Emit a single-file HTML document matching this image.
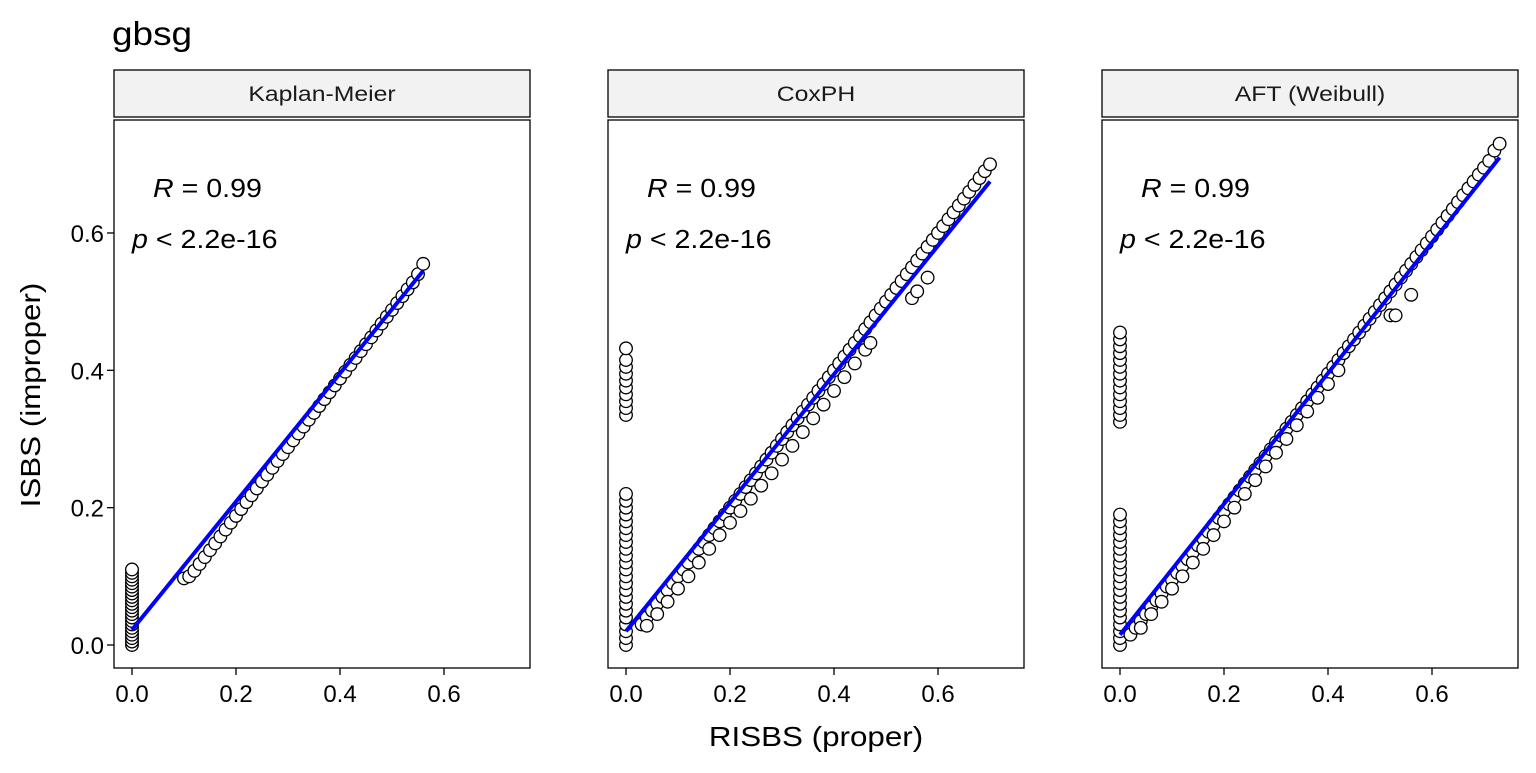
<!DOCTYPE html>
<html><head><meta charset="utf-8"><style>
body{margin:0;background:#fff}
svg text{font-family:"Liberation Sans",Arial,sans-serif}
</style></head><body>
<svg id="c" width="1536" height="768" xmlns="http://www.w3.org/2000/svg">
<text transform="translate(112,45) scale(1.12,1)" font-size="33">gbsg</text>
<text transform="translate(816,746) scale(1.12,1)" font-size="28" text-anchor="middle">RISBS (proper)</text>
<text transform="translate(40,395) rotate(-90) scale(1.12,1)" font-size="28" text-anchor="middle">ISBS (improper)</text>
</svg>
<script>
const panels=["Kaplan-Meier","CoxPH","AFT (Weibull)"];
const xTicks=[0,0.2,0.4,0.6];
const xTickLabels=["0.0","0.2","0.4","0.6"];
const yTicks=[0,0.2,0.4,0.6];
const yTickLabels=["0.0","0.2","0.4","0.6"];
const kmX=[0,0,0,0,0,0,0,0,0,0,0,0,0,0,0,0,0,0,0,0,0,0,0,
0.10,0.11,0.12,0.13,0.14,0.15,0.16,0.17,0.18,0.19,0.20,0.21,0.22,0.23,0.24,0.25,0.26,0.27,0.28,0.29,0.30,0.31,0.32,0.33,0.34,0.35,0.36,0.37,0.38,0.39,0.40,0.41,0.42,0.43,0.44,0.45,0.46,0.47,0.48,0.49,0.50,0.51,0.52,0.53,0.54,0.55,0.56];
const kmY=[0,0.005,0.01,0.015,0.02,0.025,0.03,0.035,0.04,0.045,0.05,0.055,0.06,0.065,0.07,0.075,0.08,0.085,0.09,0.095,0.10,0.105,0.11,
0.097,0.10,0.108,0.118,0.128,0.138,0.148,0.158,0.168,0.178,0.188,0.198,0.208,0.218,0.228,0.238,0.248,0.258,0.268,0.278,0.288,0.298,0.308,0.318,0.328,0.338,0.348,0.358,0.368,0.378,0.388,0.398,0.408,0.418,0.428,0.438,0.448,0.458,0.468,0.478,0.488,0.498,0.508,0.518,0.528,0.54,0.555];
const coxX=[0,0,0,0,0,0,0,0,0,0,0,0,0,0,0,0,0,0,0,0,0,0,0,0,0,0,0,0,0,0,0,0,0,
0.03,0.04,0.05,0.06,0.07,0.08,0.09,0.10,0.11,0.12,0.13,0.14,0.15,0.16,0.17,0.18,0.19,0.20,0.21,0.22,0.23,0.24,0.25,0.26,0.27,0.28,0.29,0.30,0.31,0.32,0.33,0.34,0.35,0.36,0.37,0.38,0.39,0.40,0.41,0.42,0.43,0.44,0.45,0.46,0.47,0.48,0.49,0.50,0.51,0.52,0.53,0.54,0.55,0.56,0.57,0.58,0.59,0.60,0.61,0.62,0.63,0.64,0.65,0.66,0.67,0.68,0.69,0.70,
0.04,0.06,0.08,0.10,0.12,0.14,0.16,0.18,0.20,0.22,0.24,0.26,0.28,0.30,0.32,0.34,0.36,0.38,0.40,0.42,0.44,0.46,0.47,0.55,0.56,0.58];
const coxY=[0,0.01,0.02,0.03,0.04,0.05,0.06,0.07,0.08,0.09,0.10,0.11,0.12,0.13,0.14,0.15,0.16,0.17,0.18,0.19,0.20,0.21,0.22,0.335,0.345,0.355,0.365,0.375,0.385,0.395,0.405,0.415,0.432,
0.03,0.04,0.05,0.06,0.07,0.08,0.09,0.10,0.11,0.12,0.13,0.14,0.15,0.16,0.17,0.18,0.19,0.20,0.21,0.22,0.23,0.24,0.25,0.26,0.27,0.28,0.29,0.30,0.31,0.32,0.33,0.34,0.35,0.36,0.37,0.38,0.39,0.40,0.41,0.42,0.43,0.44,0.45,0.46,0.47,0.48,0.49,0.50,0.51,0.52,0.53,0.54,0.55,0.56,0.57,0.58,0.59,0.60,0.61,0.62,0.63,0.64,0.65,0.66,0.67,0.68,0.69,0.70,
0.028,0.045,0.063,0.082,0.10,0.12,0.14,0.16,0.178,0.195,0.213,0.232,0.25,0.27,0.29,0.31,0.33,0.35,0.37,0.39,0.41,0.43,0.44,0.505,0.515,0.535];
const aftX=[0,0,0,0,0,0,0,0,0,0,0,0,0,0,0,0,0,0,0,0,0,0,0,0,0,0,0,0,0,0,0,0,0,0,
0.02,0.03,0.04,0.05,0.06,0.07,0.08,0.09,0.10,0.11,0.12,0.13,0.14,0.15,0.16,0.17,0.18,0.19,0.20,0.21,0.22,0.23,0.24,0.25,0.26,0.27,0.28,0.29,0.30,0.31,0.32,0.33,0.34,0.35,0.36,0.37,0.38,0.39,0.40,0.41,0.42,0.43,0.44,0.45,0.46,0.47,0.48,0.49,0.50,0.51,0.52,0.53,0.54,0.55,0.56,0.57,0.58,0.59,0.60,0.61,0.62,0.63,0.64,0.65,0.66,0.67,0.68,0.69,0.70,0.71,0.72,0.73,
0.04,0.06,0.08,0.10,0.12,0.14,0.16,0.18,0.20,0.22,0.24,0.26,0.28,0.30,0.32,0.34,0.36,0.38,0.40,0.42,0.52,0.53,0.56];
const aftY=[0,0.01,0.02,0.03,0.04,0.05,0.06,0.07,0.08,0.09,0.10,0.11,0.12,0.13,0.14,0.15,0.16,0.17,0.18,0.19,0.325,0.335,0.345,0.355,0.365,0.375,0.385,0.395,0.405,0.415,0.425,0.435,0.445,0.455,
0.015,0.025,0.035,0.045,0.055,0.065,0.075,0.085,0.095,0.105,0.115,0.125,0.135,0.145,0.155,0.165,0.175,0.185,0.195,0.205,0.215,0.225,0.235,0.245,0.255,0.265,0.275,0.285,0.295,0.305,0.315,0.325,0.335,0.345,0.355,0.365,0.375,0.385,0.395,0.405,0.415,0.425,0.435,0.445,0.455,0.465,0.475,0.485,0.495,0.505,0.515,0.525,0.535,0.545,0.555,0.565,0.575,0.585,0.595,0.605,0.615,0.625,0.635,0.645,0.655,0.665,0.675,0.685,0.695,0.705,0.72,0.73,
0.025,0.045,0.063,0.082,0.10,0.12,0.14,0.16,0.18,0.20,0.22,0.24,0.26,0.28,0.30,0.32,0.34,0.36,0.38,0.40,0.48,0.48,0.51];
const fitX=[[0,0.56],[0,0.70],[0,0.73]];
const fitY=[[0.022,0.545],[0.02,0.675],[0.015,0.71]];
(function(){
const ptsX=[kmX,coxX,aftX], ptsY=[kmY,coxY,aftY];
const NS="http://www.w3.org/2000/svg", svg=document.getElementById('c');
function mk(t,a,p){const e=document.createElementNS(NS,t);for(const k in a)e.setAttribute(k,a[k]);(p||svg).appendChild(e);return e;}
const lefts=[114,608,1102], W=416, plotTop=120, plotBot=668, SX=1.1;
const sx=(i,v)=>lefts[i]+18+v*520;
const sy=v=>645-v*686.7;
panels.forEach((name,i)=>{
  const L=lefts[i];
  const g=mk('g',{});
  
  
  const s=mk('rect',{x:L,y:70,width:W,height:47,fill:'#f2f2f2',stroke:'#000','stroke-width':1.3},g);
  
  
  const st=mk('text',{transform:`translate(${L+W/2},101) scale(1.18,1)`,'font-size':21,'text-anchor':'middle',fill:'#1a1a1a'},g);st.textContent=name;
  
  
  const pts=mk('g',{},g);
  
  
  ptsX[i].forEach((x,j)=>{const c=mk('circle',{cx:sx(i,x),cy:sy(ptsY[i][j]),r:6.3,fill:'#fff',stroke:'#000','stroke-width':1.3},pts);
    
    });
  const fl=mk('line',{x1:sx(i,fitX[i][0]),y1:sy(fitY[i][0]),x2:sx(i,fitX[i][1]),y2:sy(fitY[i][1]),stroke:'#0000ff','stroke-width':4},g);
  
  
  const b=mk('rect',{x:L,y:plotTop,width:W,height:plotBot-plotTop,fill:'none',stroke:'#000','stroke-width':1.3},g);
  
  
  const r=mk('text',{transform:`translate(${L+39},197) scale(${SX},1)`,'font-size':26},g);
  r.innerHTML='<tspan font-style="italic">R</tspan> = 0.99';
  
  
  const p=mk('text',{transform:`translate(${L+18},248) scale(${SX},1)`,'font-size':26},g);
  p.innerHTML='<tspan font-style="italic">p</tspan> &lt; 2.2e-16';
  
  
  xTicks.forEach((v,k)=>{mk('line',{x1:sx(i,v),x2:sx(i,v),y1:plotBot,y2:plotBot+7,stroke:'#000','stroke-width':1.3},g);
    const t=mk('text',{x:sx(i,v),y:plotBot+34,'font-size':24,'text-anchor':'middle'},g);t.textContent=xTickLabels[k];
    
    });
  if(i===0) yTicks.forEach((v,k)=>{mk('line',{x1:L-7,x2:L,y1:sy(v),y2:sy(v),stroke:'#000','stroke-width':1.3},g);
    const t=mk('text',{x:L-10,y:sy(v)+9,'font-size':24,'text-anchor':'end'},g);t.textContent=yTickLabels[k];
    
    });
});
})();
</script>
</body></html>
